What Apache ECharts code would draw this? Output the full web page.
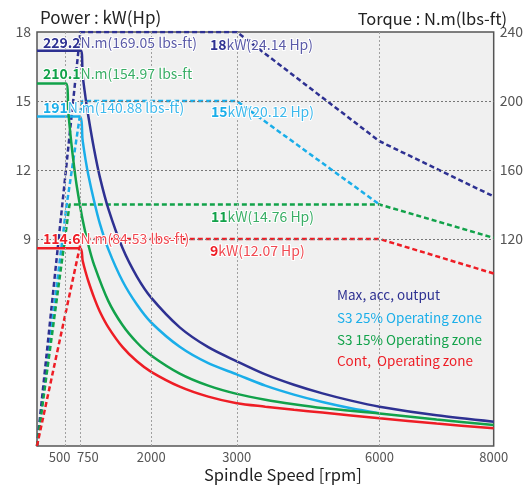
<!DOCTYPE html>
<html>
<head>
<meta charset="utf-8">
<script src="https://cdn.jsdelivr.net/npm/echarts@6/dist/echarts.min.js"></script>
<style>
  html, body { margin: 0; padding: 0; background: #fff; }
  #chart { width: 526px; height: 486px; }
</style>
</head>
<body>
<div id="chart"></div>
<script>
  // x ticks: the "3000" grid line sits at the 3500 position in the original drawing
  var xTickValues = [500, 750, 2000, 3500, 6000, 8000]
  var xTickLabels = ['500', '750', '2000', '3000', '6000', '8000']
  var powerTicks = [9, 12, 15, 18]
  var torqueTicks = [120, 160, 200, 240]

  // power, kW (dashed, left axis) [rpm, kW]
  var maxPower = [[0, 0], [760, 18], [3500, 18], [6000, 13.25], [8000, 10.85]]
  var s25Power = [[0, 0], [515, 10.4], [790, 15], [3500, 15], [6000, 10.5]]
  var s15Power = [[0, 0], [570, 10.5], [6000, 10.5], [8000, 9.05]]
  var contPower = [[0, 0], [780, 9], [6000, 9], [8000, 7.5]]

  // torque, N.m (solid, right axis) [rpm, N.m]
  var maxTorque = [[0, 229.2], [770, 229.2], [800, 215], [850, 202], [900, 191], [1000, 172], [1100, 156],
    [1250, 137.5], [1500, 114.6], [1750, 98.2], [2000, 86], [2500, 68.8], [3000, 57.3], [3500, 49.1],
    [4000, 41.5], [4500, 35.5], [5000, 30.5], [5500, 26.3], [6000, 22.8], [7000, 17.8], [8000, 14.1]]
  var s25Torque = [[0, 191], [745, 191], [800, 177], [850, 166], [900, 157], [1000, 142], [1100, 129],
    [1250, 114], [1500, 95.5], [1750, 82], [2000, 71.6], [2500, 57.5], [3000, 48], [3500, 41.5],
    [4000, 35], [4500, 29.8], [5000, 25.5], [5500, 21.9], [6000, 19]]
  var s15Torque = [[0, 210.1], [510, 210.1], [550, 193], [600, 176], [650, 162], [700, 150], [800, 131],
    [900, 116.5], [1000, 105], [1250, 84], [1500, 70], [1750, 60], [2000, 52.5], [2500, 42], [3000, 35],
    [3500, 30.2], [4000, 26.8], [4500, 24.2], [5000, 22], [6000, 18.8], [7000, 15.3], [8000, 12.2]]
  var contTorque = [[0, 114.6], [755, 114.6], [800, 107.4], [850, 101], [900, 95.5], [1000, 86], [1100, 78],
    [1250, 68.8], [1500, 57.3], [1750, 49.1], [2000, 43], [2500, 34.4], [3000, 28.6], [3500, 24.8],
    [4000, 22.8], [4500, 21], [5000, 19.4], [6000, 16.1], [7000, 13], [8000, 10.3]]

  var FONT = '"Noto Sans CJK KR", "Noto Sans", sans-serif'
  var NAVY = '#2e3192', LBLUE = '#1aaee9', GREEN = '#12a24a', RED = '#ee1d25'

  function note(left, cy, num, rest, dark, light) {
    var common = {fontFamily: FONT, fontSize: 14, lineHeight: 16, textBorderColor: '#fff', textBorderWidth: 2}
    return {
      left: left, top: cy - 8, padding: 0,
      text: '{n|' + num + '}{u|' + rest + '}',
      textStyle: {
        fontWeight: 'normal',
        rich: {
          n: Object.assign({}, common, {color: dark, fontWeight: 'bold'}),
          u: Object.assign({}, common, {color: light, fontWeight: 'normal'})
        }
      }
    }
  }

  function plain(left, cy, text, color, size) {
    return {
      left: left, top: cy - size / 2 - 1, padding: 0, text: text,
      textStyle: {fontFamily: FONT, fontSize: size, lineHeight: size + 2, color: color, fontWeight: 'normal'}
    }
  }

  function powerLine(name, data, color) {
    return {
      name: name, type: 'line', yAxisIndex: 0, data: data, showSymbol: false, z: 3,
      lineStyle: {color: color, width: 2.5, type: [5, 3]}
    }
  }

  function torqueLine(name, data, color) {
    return {
      name: name, type: 'line', yAxisIndex: 1, data: data, showSymbol: false, z: 4,
      smooth: 0.3,
      lineStyle: {color: color, width: 2.5}
    }
  }

  var gridLines = []
  xTickValues.forEach(function (v) { if (v < 8000) gridLines.push({xAxis: v, lineStyle: {color: '#a0a0a0'}}) })
  powerTicks.forEach(function (v) { if (v < 18) gridLines.push({yAxis: v, lineStyle: {color: '#777'}}) })

  var chart = echarts.init(document.getElementById('chart'))
  chart.setOption({
    animation: false,
    title: [
      plain(40, 18, 'Power : kW(Hp)', '#222', 17),
      {right: 19, top: 9, padding: 0, text: 'Torque : N.m(lbs-ft)',
        textStyle: {fontFamily: FONT, fontSize: 16.5, lineHeight: 19, color: '#222', fontWeight: 'normal'}},
      {left: 204, top: 465, padding: 0, text: 'Spindle Speed [rpm]',
        textStyle: {fontFamily: FONT, fontSize: 16.5, lineHeight: 19, color: '#222', fontWeight: 'normal'}},
      note(43, 42.7, '229.2', 'N.m(169.05 lbs-ft)', NAVY, '#5b5ba8'),
      note(210, 45, '18', 'kW(24.14 Hp)', NAVY, '#5b5ba8'),
      note(43, 73.5, '210.1', 'N.m(154.97 lbs-ft', GREEN, '#3aae66'),
      note(43, 108, '191', 'N.m(140.88 lbs-ft)', LBLUE, '#3cb8ec'),
      note(211, 112, '15', 'kW(20.12 Hp)', LBLUE, '#3cb8ec'),
      note(211, 216.5, '11', 'kW(14.76 Hp)', GREEN, '#3aae66'),
      note(210, 250.5, '9', 'kW(12.07 Hp)', RED, '#f04a52'),
      note(43, 238.5, '114.6', 'N.m(84.53 lbs-ft)', RED, '#f04a52'),
      plain(337, 295, 'Max, acc, output', NAVY, 13.5),
      plain(337, 317.5, 'S3 25% Operating zone', LBLUE, 13.5),
      plain(337, 339.5, 'S3 15% Operating zone', GREEN, 13.5),
      plain(337, 361, 'Cont,  Operating zone', RED, 13.5)
    ],
    grid: {
      left: 37, right: 20, top: 32, bottom: 40,
      show: true, backgroundColor: '#f0f0f0', borderColor: '#555', borderWidth: 1.5
    },
    xAxis: {
      type: 'value', min: 0, max: 8000, interval: 250,
      axisLine: {show: false}, axisTick: {show: false}, splitLine: {show: false},
      axisLabel: {
        margin: 5, color: '#555', fontFamily: FONT, fontSize: 13,
        formatter: function (v) {
          var i = xTickValues.indexOf(v)
          if (i < 0) return ''
          if (v === 500) return '{l|' + xTickLabels[i] + '}'
          if (v === 750) return '{r|' + xTickLabels[i] + '}'
          return xTickLabels[i]
        },
        rich: {
          l: {padding: [0, 12, 0, 0], color: '#555', fontFamily: FONT, fontSize: 13},
          r: {padding: [0, 0, 0, 16], color: '#555', fontFamily: FONT, fontSize: 13}
        }
      }
    },
    yAxis: [
      {
        type: 'value', min: 0, max: 18, interval: 3,
        axisLine: {show: false}, axisTick: {show: false}, splitLine: {show: false},
        axisLabel: {
          margin: 6, color: '#555', fontFamily: FONT, fontSize: 14,
          formatter: function (v) { return powerTicks.indexOf(v) >= 0 ? v : '' }
        }
      },
      {
        type: 'value', min: 0, max: 240, interval: 40,
        axisLine: {show: false}, axisTick: {show: false}, splitLine: {show: false},
        axisLabel: {
          margin: 6, color: '#555', fontFamily: FONT, fontSize: 14,
          formatter: function (v) { return torqueTicks.indexOf(v) >= 0 ? v : '' }
        }
      }
    ],
    series: [
      {
        name: 'grid', type: 'line', data: [], z: 1, silent: true,
        markLine: {
          silent: true, symbol: 'none', animation: false,
          label: {show: false},
          lineStyle: {type: [2, 2], width: 1},
          data: gridLines
        }
      },
      powerLine('S3 25% Operating zone', s25Power, LBLUE),
      powerLine('Max, acc, output', maxPower, NAVY),
      powerLine('S3 15% Operating zone', s15Power, GREEN),
      powerLine('Cont, Operating zone', contPower, RED),
      torqueLine('S3 25% Operating zone', s25Torque, LBLUE),
      torqueLine('Max, acc, output', maxTorque, NAVY),
      torqueLine('S3 15% Operating zone', s15Torque, GREEN),
      torqueLine('Cont, Operating zone', contTorque, RED)
    ]
  })
</script>
</body>
</html>
